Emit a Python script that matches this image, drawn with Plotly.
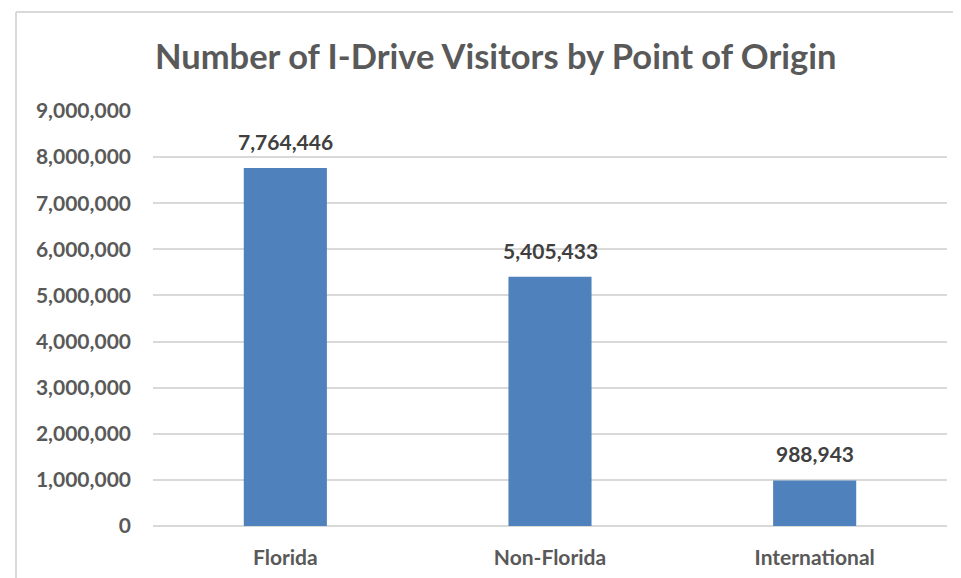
import plotly.graph_objects as go

categories = ["Florida", "Non-Florida", "International"]
visitors = [7764446, 5405433, 988943]
tick_values = [0, 1000000, 2000000, 3000000, 4000000, 5000000, 6000000, 7000000, 8000000, 9000000]
tick_labels = ["0", "1,000,000", "2,000,000", "3,000,000", "4,000,000", "5,000,000",
               "6,000,000", "7,000,000", "8,000,000", "9,000,000"]
title_text = "Number of I-Drive Visitors by Point of Origin"

FONT = "Lato"
OFF = 8  # page body margin
W, H = 961 - OFF, 578 - OFF
L, R, T, B = 153 - OFF, 14, 111 - OFF, 52
pw, ph = W - L - R, H - T - B

def px_x(px):
    return (px - OFF - L) / pw

def px_y(py):
    return (H - B - (py - OFF)) / ph

fig = go.Figure()
fig.add_trace(go.Bar(
    x=categories, y=visitors,
    marker=dict(color="#4F81BD", line=dict(width=0)),
    width=0.314,
    hoverinfo="skip",
))

for c, v in zip(categories, visitors):
    fig.add_annotation(
        x=c, y=v, xref="x", yref="y",
        text=f"{v:,}", showarrow=False,
        yanchor="bottom", yshift=12,
        font=dict(family=FONT, size=21, color="#404040", weight="bold"),
    )

fig.add_annotation(
    x=px_x(495), y=px_y(56), xref="paper", yref="paper",
    text=title_text, showarrow=False,
    xanchor="center", yanchor="middle",
    font=dict(family=FONT, size=34.5, color="#595959", weight="bold"),
)

# chart area border (top and left visible)
border = dict(color="#D9D9D9", width=2)
fig.add_shape(type="line", xref="paper", yref="paper",
              x0=px_x(16), y0=px_y(12), x1=px_x(975), y1=px_y(12), line=border)
fig.add_shape(type="line", xref="paper", yref="paper",
              x0=px_x(16), y0=px_y(12), x1=px_x(16), y1=px_y(600), line=border)

fig.update_layout(
    width=W, height=H,
    margin=dict(l=L, r=R, t=T, b=B, pad=0, autoexpand=False),
    paper_bgcolor="white", plot_bgcolor="white",
    showlegend=False,
    bargap=0.686,
    font=dict(family=FONT),
)
fig.update_xaxes(
    showline=False, showgrid=False, zeroline=False, automargin=False,
    tickfont=dict(family=FONT, size=21, color="#595959", weight="bold"),
    ticks="", ticklabelstandoff=17,
)
fig.update_yaxes(
    range=[0, 9000000], automargin=False,
    tickvals=tick_values, ticktext=tick_labels,
    showgrid=True, gridcolor="#D9D9D9", gridwidth=1.5,
    zeroline=True, zerolinecolor="#D9D9D9", zerolinewidth=1.5,
    showline=False, ticks="",
    tickfont=dict(family=FONT, size=21, color="#595959", weight="bold"),
    ticklabelstandoff=21,
)

fig.write_html("out.html")
